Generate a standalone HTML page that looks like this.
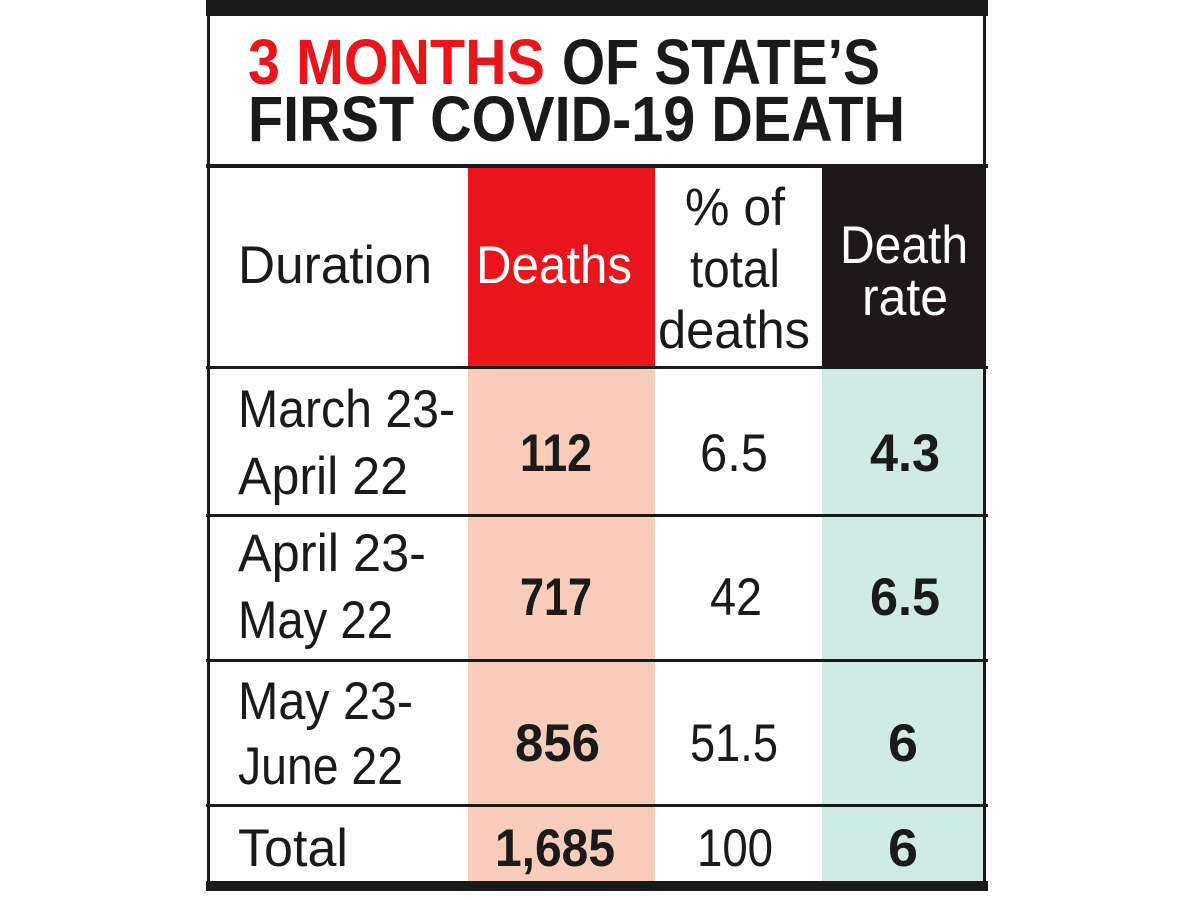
<!DOCTYPE html>
<html><head><meta charset="utf-8"><style>
html,body{margin:0;padding:0;background:#fff;}
svg{display:block;}
text{font-family:"Liberation Sans Narrow","Liberation Sans",sans-serif;}
</style></head><body>
<svg width="1200" height="900" viewBox="0 0 1200 900" xmlns="http://www.w3.org/2000/svg">
<rect x="0" y="0" width="1200" height="900" fill="#fff"/>
<rect x="468" y="168" width="187" height="200" fill="#e8161b"/>
<rect x="822" y="168" width="163" height="200" fill="#1f1719"/>
<rect x="468" y="368" width="187" height="515" fill="#f9cdb9"/>
<rect x="822" y="368" width="163" height="515" fill="#cfebe3"/>
<rect x="206" y="0" width="782" height="16" fill="#1a1a1a"/>
<rect x="207" y="0" width="3" height="890" fill="#1a1a1a"/>
<rect x="983" y="0" width="3" height="890" fill="#1a1a1a"/>
<rect x="206" y="164" width="782" height="4" fill="#1a1a1a"/>
<rect x="206" y="366" width="782" height="3" fill="#1a1a1a"/>
<rect x="206" y="514" width="782" height="3" fill="#1a1a1a"/>
<rect x="206" y="659" width="782" height="3" fill="#1a1a1a"/>
<rect x="206" y="804" width="782" height="3" fill="#1a1a1a"/>
<rect x="206" y="881" width="782" height="10" fill="#1a1a1a"/>
<text x="248" y="84" font-size="64" font-weight="bold" fill="#e8161b" textLength="297" lengthAdjust="spacingAndGlyphs">3 MONTHS</text>
<text x="562" y="84" font-size="64" font-weight="bold" fill="#1a1a1a" textLength="318" lengthAdjust="spacingAndGlyphs">OF STATE’S</text>
<text x="248" y="141" font-size="64" font-weight="bold" fill="#1a1a1a" textLength="657" lengthAdjust="spacingAndGlyphs">FIRST COVID-19 DEATH</text>
<g font-size="53" fill="#1a1a1a" lengthAdjust="spacingAndGlyphs">
<text x="238" y="283" textLength="194" lengthAdjust="spacingAndGlyphs">Duration</text>
<text x="476" y="283" fill="#fff" textLength="156" lengthAdjust="spacingAndGlyphs">Deaths</text>
<text x="685" y="225" textLength="100" lengthAdjust="spacingAndGlyphs">% of</text>
<text x="690" y="287" textLength="90" lengthAdjust="spacingAndGlyphs">total</text>
<text x="658" y="348" textLength="152" lengthAdjust="spacingAndGlyphs">deaths</text>
<text x="840" y="263" fill="#fff" textLength="128" lengthAdjust="spacingAndGlyphs">Death</text>
<text x="862" y="315" fill="#fff" textLength="86" lengthAdjust="spacingAndGlyphs">rate</text>
<text x="238" y="427" textLength="217" lengthAdjust="spacingAndGlyphs">March 23-</text>
<text x="238" y="494" textLength="170" lengthAdjust="spacingAndGlyphs">April 22</text>
<text x="238" y="571" textLength="188" lengthAdjust="spacingAndGlyphs">April 23-</text>
<text x="238" y="638" textLength="155" lengthAdjust="spacingAndGlyphs">May 22</text>
<text x="238" y="719" textLength="175" lengthAdjust="spacingAndGlyphs">May 23-</text>
<text x="238" y="784" textLength="165" lengthAdjust="spacingAndGlyphs">June 22</text>
<text x="238" y="866" textLength="110" lengthAdjust="spacingAndGlyphs">Total</text>
<text x="700" y="471" textLength="68" lengthAdjust="spacingAndGlyphs">6.5</text>
<text x="710" y="615" textLength="52" lengthAdjust="spacingAndGlyphs">42</text>
<text x="690" y="761" textLength="88" lengthAdjust="spacingAndGlyphs">51.5</text>
<text x="697" y="866" textLength="76" lengthAdjust="spacingAndGlyphs">100</text>
<g font-weight="bold">
<text x="520" y="471" textLength="72" lengthAdjust="spacingAndGlyphs">112</text>
<text x="520" y="615" textLength="72" lengthAdjust="spacingAndGlyphs">717</text>
<text x="515" y="761" textLength="85" lengthAdjust="spacingAndGlyphs">856</text>
<text x="495" y="866" textLength="120" lengthAdjust="spacingAndGlyphs">1,685</text>
<text x="870" y="471" textLength="70" lengthAdjust="spacingAndGlyphs">4.3</text>
<text x="870" y="615" textLength="70" lengthAdjust="spacingAndGlyphs">6.5</text>
<text x="888" y="761" textLength="30" lengthAdjust="spacingAndGlyphs">6</text>
<text x="888" y="866" textLength="30" lengthAdjust="spacingAndGlyphs">6</text>
</g>
</g>
</svg>
</body></html>
